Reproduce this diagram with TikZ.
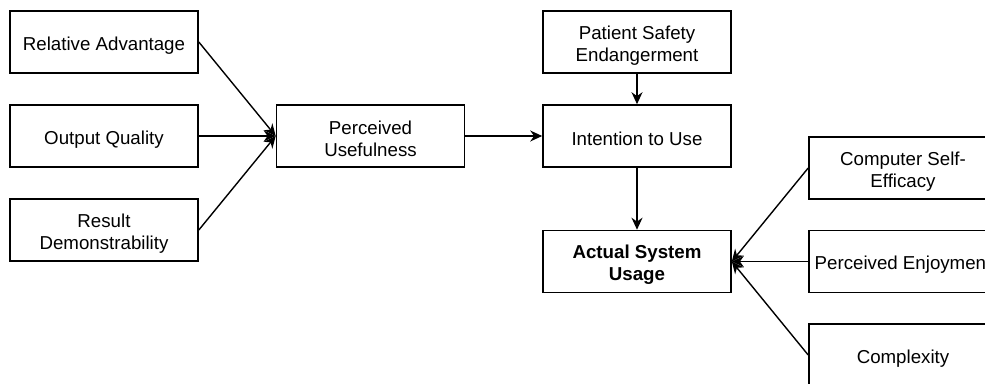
\documentclass[tikz,border=0pt]{standalone}
\usepackage{fontspec}
\setmainfont{Liberation Sans}
\usetikzlibrary{arrows.meta}
\newcommand{\toprow}{\rule{0pt}{20pt}}

\begin{document}
\begin{tikzpicture}[x=1pt,y=-1pt,
    factor/.style={draw,line width=1.6pt,minimum width=188pt,minimum height=62pt,
      inner sep=0pt,align=center,font=\fontsize{18.7}{22}\selectfont},
    link/.style={line width=1.4pt,-{Stealth[length=12pt,width=11pt]}}]

        \useasboundingbox (0,0) rectangle (985,383);
        \clip (0,0) rectangle (985,383);

        \begin{scope}[every node/.style={factor}]
          \node (adv)   at (104,42)    {\toprow Relative Advantage};
          \node (qual)  at (104,136)   {\toprow Output Quality};
          \node (demo)  at (104,230)   {\toprow Result\\Demonstrability};
          \node (useful) at (370.5,136) {\toprow Perceived\\Usefulness};
          \node (safety) at (637,42)   {\toprow Patient Safety\\Endangerment};
          \node (intent) at (637,136)  {\toprow Intention to Use};
          \node (usage)  at (637,261.5) {\toprow\textbf{Actual System}\\\textbf{Usage}};
          \node (selfeff) at (903,168) {\toprow Computer Self-\\Efficacy};
          \node (enjoy)  at (903,261.5) {\toprow Perceived Enjoyment};
          \node (compl)  at (903,355)  {\toprow Complexity};
        \end{scope}

        \begin{scope}[every path/.style={link}]
          \draw (adv.east)  -- (useful.west);
          \draw (qual.east) -- (useful.west);
          \draw (demo.east) -- (useful.west);
          \draw (useful) -- (intent);
          \draw (safety) -- (intent);
          \draw (intent) -- (usage);
          \draw (selfeff.west) -- (usage.east);
          \draw (enjoy.west)   -- (usage.east);
          \draw (compl.west)   -- (usage.east);
        \end{scope}

      \end{tikzpicture}
\end{document}
